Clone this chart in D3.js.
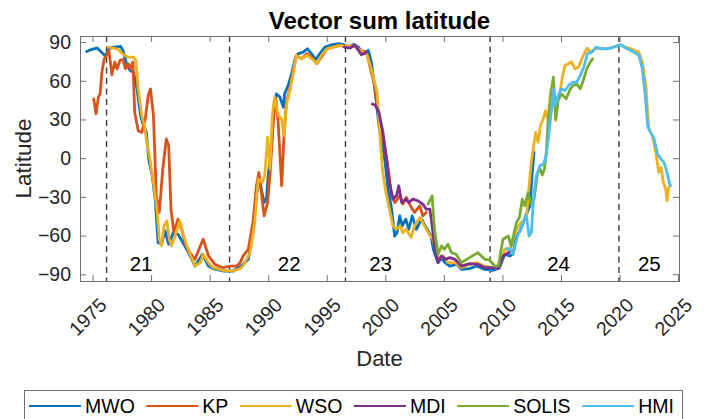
<!DOCTYPE html>
<html>
<head>
<meta charset="utf-8">
<script src="https://cdn.jsdelivr.net/npm/d3@7"></script>
<style>
  body { margin: 0; background: #fff; }
  text { font-family: "Liberation Sans", Arial, sans-serif; }
</style>
</head>
<body>
<div id="chart"></div>
<script>
// data: [year, latitude], null = gap

var mwo = [[1974.5,82.7],[1974.9,84.3],[1975.4,85.3],[1975.7,82.7],[1976.1,79.1],[1976.4,84.8],[1976.8,86.1],[1977.4,86.6],[1977.6,83.5],[1977.9,73.2],[1978.2,68],[1978.5,66.7],[1978.8,53.7],[1979.1,33],[1979.35,25.2],[1979.6,20],[1979.8,-0.7],[1980.1,-13.6],[1980.35,-31.8],[1980.6,-65.4],[1980.9,-66.7],[1981.2,-56.4],[1981.5,-66.7],[1981.9,-57.7],[1982.3,-59],[1982.8,-66.7],[1983.2,-73.2],[1983.75,-83.6],[1984.4,-74.5],[1984.9,-83.6],[1985.3,-85.6],[1986.2,-87.5],[1987.0,-87.5],[1987.7,-83.6],[1988.3,-78.4],[1988.7,-57.7],[1989.0,-26.6],[1989.3,-18.8],[1989.65,-34.4],[1989.85,-31.8],[1990.0,-13.6],[1990.3,12.3],[1990.5,40.8],[1990.7,49.8],[1991.0,47.3],[1991.3,39.5],[1991.4,49.8],[1991.7,56.3],[1992.0,65.4],[1992.3,77],[1992.55,80.9],[1993.0,82.2],[1993.35,84.8],[1993.7,80.9],[1994.05,76.5],[1994.4,80.9],[1994.85,86.1],[1995.4,87.9],[1996.0,88.7],[1996.4,88.2],[1996.85,86.1],[1997.25,88.2],[1997.7,86.1],[1998.1,80.9],[1998.55,83.5],[1998.8,74.5],[1999.0,61.5],[1999.23,43.4],[1999.5,22.6],[1999.95,-0.7],[2000.23,-24],[2000.5,-37],[2000.8,-60.3],[2001.0,-57.7],[2001.23,-44.7],[2001.45,-52.5],[2001.75,-47.3],[2002.0,-55.1],[2002.3,-44.7],[2002.65,-55.1],[2003.1,-47.3],[2003.5,-53.8],[2003.9,-60.3],[2004.1,-70.6],[2004.5,-81],[2004.8,-77.1],[2005.1,-81],[2005.5,-83.6],[2006.1,-82.3],[2006.5,-86.2],[2007.2,-85.6],[2007.8,-83.6],[2008.5,-86.2],[2009.2,-87],[2009.75,-84.9],[2010.2,-74.5],[2010.6,-75.8],[2010.9,-74.5],[2011.2,-60.3],[2011.5,-56.4],[2012.05,-43.4],[2012.35,-37],[2012.55,-11],[2012.7,4.6]];

var kp = [[1975.1,46],[1975.3,34.3],[1975.5,47.3],[1975.65,49.8],[1975.8,66.7],[1976.0,77],[1976.2,79.6],[1976.4,83.5],[1976.65,64.6],[1976.9,74.5],[1977.1,69.3],[1977.35,75.8],[1977.6,76.5],[1977.8,69.3],[1978.05,73.2],[1978.2,69.3],[1978.45,74.5],[1978.6,35.6],[1978.9,21.3],[1979.2,20],[1979.5,30.4],[1979.75,48.5],[1979.95,53.7],[1980.2,33],[1980.45,-29.2],[1980.7,-42.1],[1981.0,-8.4],[1981.3,14.9],[1981.5,9.7],[1981.7,-39.5],[1981.95,-57.7],[1982.3,-47.3],[1982.6,-55.1],[1982.9,-65.4],[1983.3,-73.2],[1983.75,-78.4],[1984.2,-68],[1984.45,-62.8],[1984.9,-75.8],[1985.45,-82.3],[1986.15,-84.9],[1986.75,-83.6],[1987.3,-83.6],[1987.6,-81],[1987.86,-75.8],[1988.3,-70.6],[1988.7,-49.9],[1989.0,-21.4],[1989.2,-11],[1989.45,-29.2],[1989.65,-44.7],[1989.95,-34.4],[1990.15,-13.6],[1990.45,30.4],[1990.65,46],[1990.85,27.8],[1991.15,-21.4],[1991.35,17.5],[1991.55,43.4],[1991.85,53.7],[1992.15,68],[1992.4,79.6],[1992.85,77],[1993.3,80.9],[1993.7,78.3],[1994.15,73.2],[1994.55,78.3],[1995.0,84.8],[1995.55,86.1],[1996.15,87.4],[1996.7,86.1],[1997.25,87.4],[1997.85,83.5],[1998.4,82.2],[1998.8,66.7],[1999.1,56.3],[1999.4,35.6],[1999.6,24],[1999.95,9.7],[2000.25,-8.4],[2000.5,-26.6],[2000.8,-34.4],[2001.25,-29.2],[2001.5,-35.6],[2001.8,-30.5],[2002.15,-37],[2002.5,-42.1],[2002.95,-37],[2003.2,-44.7],[2003.5,-42.1]];

var wso = [[1976.35,86.1],[1976.8,85.3],[1977.2,84.3],[1977.65,80.2],[1978.05,78.3],[1978.5,78.3],[1978.7,75.8],[1978.9,53.7],[1979.2,33],[1979.4,26.5],[1979.6,14.9],[1979.9,-0.7],[1980.2,-18.8],[1980.5,-39.5],[1980.7,-62.8],[1980.9,-68],[1981.1,-52.5],[1981.35,-48.6],[1981.55,-62.8],[1981.75,-68],[1982.05,-60.3],[1982.45,-48.6],[1982.75,-59],[1983.05,-68],[1983.45,-77.1],[1983.75,-83.6],[1984.2,-81],[1984.45,-74.5],[1984.9,-81],[1985.3,-84.9],[1986.15,-87],[1987.0,-87.5],[1987.6,-85.6],[1987.85,-83.6],[1988.45,-73.2],[1988.85,-49.9],[1989.15,-16.2],[1989.5,-18.8],[1989.7,-13.6],[1989.95,16.2],[1990.15,-8.4],[1990.35,33],[1990.55,47.3],[1990.85,33],[1991.15,30.4],[1991.35,17.5],[1991.55,40.8],[1991.85,52.4],[1992.15,66.7],[1992.4,79.6],[1992.85,77],[1993.3,79.6],[1993.75,77],[1994.15,73.2],[1994.55,79.6],[1995.0,84.8],[1995.55,86.1],[1996.15,87.4],[1996.7,86.6],[1997.25,87.4],[1997.85,83.5],[1998.4,80.9],[1998.8,69.3],[1999.0,62],[1999.3,51.1],[1999.55,17.5],[1999.75,-8.4],[2000.05,-26.6],[2000.35,-39.5],[2000.65,-52.5],[2000.95,-55.1],[2001.25,-52.5],[2001.5,-57.7],[2001.8,-55.1],[2002.2,-61.5],[2002.5,-52.5],[2002.95,-46],[2003.2,-49.9],[2003.65,-57.7],[2004.05,-62.8],[2004.35,-73.2],[2004.65,-78.4],[2004.95,-75.8],[2005.35,-81],[2005.95,-81],[2006.5,-84.9],[2007.2,-82.3],[2007.8,-81],[2008.5,-83.6],[2009.2,-84.9],[2009.75,-83.6],[2010.2,-70.6],[2010.65,-70.6],[2011.2,-55.1],[2011.6,-49.9],[2012.05,-46],[2012.33,-16.2],[2012.47,-2.9],[2012.67,9.7],[2012.84,20],[2013.05,12.3],[2013.25,25.2],[2013.48,30.4],[2013.68,36.9],[2013.9,29.1],[2014.1,51.1],[2014.35,61.5],[2014.55,29.1],[2014.75,46],[2014.95,53.7],[2015.15,64.1],[2015.35,71.9],[2015.65,73.2],[2015.9,74.5],[2016.2,69.3],[2016.5,70.6],[2016.9,79.6],[2017.25,85.3],[2017.55,82.2],[2017.9,84.8],[2018.35,85.3],[2018.95,84.8],[2019.5,86.1],[2020.0,87.9],[2020.5,86.1],[2021.1,84.3],[2021.65,82.2],[2021.95,74.5],[2022.25,56.3],[2022.5,22.6],[2022.8,17.5],[2023.1,4.6],[2023.35,-10.9],[2023.55,-7.1],[2023.75,-18.8],[2023.95,-24],[2024.05,-33.1],[2024.2,-22.7]];

var mdi = [[1996.5,86.1],[1997.0,85.3],[1997.4,87.9],[1997.95,80.2],[1998.4,82.2],null,[1998.9,42],[1999.15,41],[1999.45,35.6],[1999.8,20],[2000.1,-0.7],[2000.35,-18.8],[2000.65,-31.8],[2000.95,-29.2],[2001.15,-21.4],[2001.4,-34.4],[2001.75,-31.8],[2002.0,-34.4],[2002.35,-31.8],[2002.8,-33.1],[2003.2,-35.6],[2003.5,-39.5],[2003.8,-39.5],[2003.95,-48.6],[2004.2,-68],[2004.5,-81],[2004.8,-75.8],[2005.15,-78.4],[2005.5,-77.1],[2005.95,-78.4],[2006.5,-83.6],[2007.2,-81.8],[2007.9,-82.3],[2008.5,-84.9],[2009.2,-84.9],[2009.65,-85.6],[2010.05,-75.8],[2010.5,-73.2],[2010.9,-71.9]];

var solis = [[2003.65,-35.6],[2004.0,-29.2],[2004.2,-55.1],[2004.5,-74.5],[2004.8,-68],[2005.05,-70.6],[2005.35,-66.7],[2005.65,-73.2],[2006.05,-74.5],[2006.5,-81],[2007.2,-77.1],[2007.9,-73.2],[2008.5,-78.4],[2008.9,-78.9],[2009.35,-83.6],[2009.65,-83.6],[2010.05,-62.8],[2010.5,-60.3],[2010.75,-68],[2011.2,-49.9],[2011.45,-46],[2011.7,-31.8],[2011.9,-37],[2012.2,-26.6],[2012.45,-35.6],[2012.7,-31.8],[2013.0,-12],[2013.2,-8],[2013.4,-13],[2013.6,-8],[2013.75,5],[2013.9,27.8],[2014.35,62.8],[2014.55,30.4],[2014.75,44.7],[2015.05,49.8],[2015.45,46],[2015.8,53.7],[2016.05,56.3],[2016.35,57.6],[2016.65,53.7],[2016.95,61.5],[2017.2,69.3],[2017.5,74.5],[2017.7,77]];

var hmi = [[2010.35,-70],[2010.65,-70.6],[2010.9,-74.5],[2011.3,-60.3],[2011.75,-49.9],[2012.05,-44.7],[2012.27,-60.3],[2012.47,-57.7],[2012.67,-29.2],[2012.9,-13.6],[2013.2,-5.9],[2013.5,-4.6],[2013.75,1.9],[2013.95,17.5],[2014.2,38.2],[2014.35,53.7],[2014.5,40.8],[2014.75,48.5],[2015.05,53.7],[2015.35,52.4],[2015.65,56.3],[2016.0,58.9],[2016.35,58.9],[2016.65,64.1],[2016.95,70.6],[2017.25,80.9],[2017.65,82.2],[2018.0,86.1],[2018.4,84.8],[2018.95,84.8],[2019.5,86.1],[2020.1,87.9],[2020.65,84.8],[2021.25,82.2],[2021.65,79.6],[2021.95,69.3],[2022.2,48.5],[2022.4,25.2],[2022.65,20],[2022.95,14.9],[2023.25,3.2],[2023.55,-0.7],[2023.8,-3.3],[2024.05,-10.9],[2024.25,-18.8],[2024.35,-21.4]];

var seriesNames = ["MWO", "KP", "WSO", "MDI", "SOLIS", "HMI"];
var seriesData = [mwo, kp, wso, mdi, solis, hmi];
var seriesColors = ["#0072BD", "#D95319", "#EDB120", "#7E2F8E", "#77AC30", "#4DBEEE"];

// cycle minima (dashed lines) and cycle number labels
var cycleMinima = [1976.2, 1986.7, 1996.6, 2008.95, 2019.95];
var cycleNumbers = ["21", "22", "23", "24", "25"];
var cycleLabelYears = [1979.15, 1991.8, 1999.6, 2014.8, 2022.55];

var xTicks = [1975, 1980, 1985, 1990, 1995, 2000, 2005, 2010, 2015, 2020, 2025];
var yTicks = [-90, -60, -30, 0, 30, 60, 90];

// svg parameters
var svgWidth = 705, svgHeight = 419;
var plot = {"left": 80, "right": 679, "top": 36, "bottom": 281};

var svg = d3.select("#chart").append("svg")
	.attr("width", svgWidth)
	.attr("height", svgHeight);

var xScale = d3.scaleLinear().domain([1973.93, 2025.08]).range([plot.left, plot.right]);
var yScale = d3.scaleLinear().domain([-95.2, 94.7]).range([plot.bottom, plot.top]);

var axisColor = "#6f6f6f";
var textColor = "#262626";

// dashed cycle-minimum lines
svg.append("g").selectAll("line")
	.data(cycleMinima)
	.enter()
	.append("line")
	.attr("x1", function(d) { return xScale(d); })
	.attr("x2", function(d) { return xScale(d); })
	.attr("y1", plot.top)
	.attr("y2", plot.bottom)
	.attr("stroke", "#3c3c3c")
	.attr("stroke-width", 1.4)
	.attr("stroke-dasharray", "6,4.5");

// series lines
var line = d3.line()
	.defined(function(d) { return d !== null; })
	.x(function(d) { return xScale(d[0]); })
	.y(function(d) { return yScale(d[1]); });

svg.append("g").selectAll("path")
	.data(seriesData)
	.enter()
	.append("path")
	.attr("d", function(d) { return line(d); })
	.attr("fill", "none")
	.attr("stroke", function(d, i) { return seriesColors[i]; })
	.attr("stroke-width", 2.8)
	.attr("stroke-linejoin", "round")
	.attr("stroke-linecap", "round");

// cycle numbers
svg.append("g").selectAll("text")
	.data(cycleNumbers)
	.enter()
	.append("text")
	.attr("x", function(d, i) { return xScale(cycleLabelYears[i]); })
	.attr("y", yScale(-82))
	.attr("dy", "0.36em")
	.attr("text-anchor", "middle")
	.attr("font-size", 20.5)
	.attr("fill", "#000")
	.text(function(d) { return d; });

// Axis
var xAxis = d3.axisBottom(xScale).tickValues(xTicks).tickFormat(d3.format("d")).tickSize(-6).tickSizeOuter(0);
var gx = svg.append("g")
	.attr("transform", "translate(0," + plot.bottom + ")")
	.call(xAxis);
gx.selectAll("text")
	.attr("x", 0).attr("y", 0)
	.attr("dy", "0.35em")
	.attr("text-anchor", "end")
	.attr("transform", "translate(10,20.5) rotate(-45)")
	.attr("font-size", 19.5)
	.attr("font-family", "Liberation Sans, Arial, sans-serif")
	.attr("fill", textColor);

var xAxisTop = d3.axisTop(xScale).tickValues(xTicks).tickFormat("").tickSize(-6).tickSizeOuter(0);
svg.append("g")
	.attr("transform", "translate(0," + plot.top + ")")
	.call(xAxisTop);

var yAxis = d3.axisLeft(yScale).tickValues(yTicks).tickSize(-6).tickSizeOuter(0).tickPadding(9);
var gy = svg.append("g")
	.attr("transform", "translate(" + plot.left + ",0)")
	.call(yAxis);
gy.selectAll("text")
	.attr("font-size", 19.5)
	.attr("font-family", "Liberation Sans, Arial, sans-serif")
	.attr("fill", textColor);

var yAxisRight = d3.axisRight(yScale).tickValues(yTicks).tickFormat("").tickSize(-6).tickSizeOuter(0);
svg.append("g")
	.attr("transform", "translate(" + plot.right + ",0)")
	.call(yAxisRight);

svg.selectAll(".domain").remove();
svg.selectAll(".tick line").attr("stroke", axisColor);

// box
svg.append("rect")
	.attr("x", plot.left + 0.5)
	.attr("y", plot.top + 0.5)
	.attr("width", plot.right - plot.left)
	.attr("height", plot.bottom - plot.top)
	.attr("fill", "none")
	.attr("stroke", axisColor)
	.attr("stroke-width", 1);

// title and labels
svg.append("text")
	.attr("x", (plot.left + plot.right) / 2)
	.attr("y", 29)
	.attr("text-anchor", "middle")
	.attr("font-size", 24)
	.attr("font-weight", "bold")
	.attr("fill", "#000")
	.text("Vector sum latitude");

svg.append("text")
	.attr("x", (plot.left + plot.right) / 2)
	.attr("y", 366)
	.attr("text-anchor", "middle")
	.attr("font-size", 22)
	.attr("fill", textColor)
	.text("Date");

svg.append("text")
	.attr("transform", "translate(31," + ((plot.top + plot.bottom) / 2) + ") rotate(-90)")
	.attr("text-anchor", "middle")
	.attr("font-size", 22.5)
	.attr("fill", textColor)
	.text("Latitude");

// legend
var legend = svg.append("g").attr("id", "legend");
legend.append("rect")
	.attr("x", 24.5)
	.attr("y", 390.5)
	.attr("width", 658)
	.attr("height", 40)
	.attr("fill", "#fff")
	.attr("stroke", axisColor)
	.attr("stroke-width", 1);

var lx = 29;
var legendY = 406;
seriesNames.forEach(function(name, i) {
	legend.append("line")
		.attr("x1", lx).attr("x2", lx + 52)
		.attr("y1", legendY).attr("y2", legendY)
		.attr("stroke", seriesColors[i])
		.attr("stroke-width", 2.2);
	var t = legend.append("text")
		.attr("x", lx + 56)
		.attr("y", legendY)
		.attr("dy", "0.36em")
		.attr("font-size", 19.5)
		.attr("fill", "#000")
		.text(name);
	lx = lx + 56 + t.node().getComputedTextLength() + 11.5;
});
</script>
</body>
</html>
